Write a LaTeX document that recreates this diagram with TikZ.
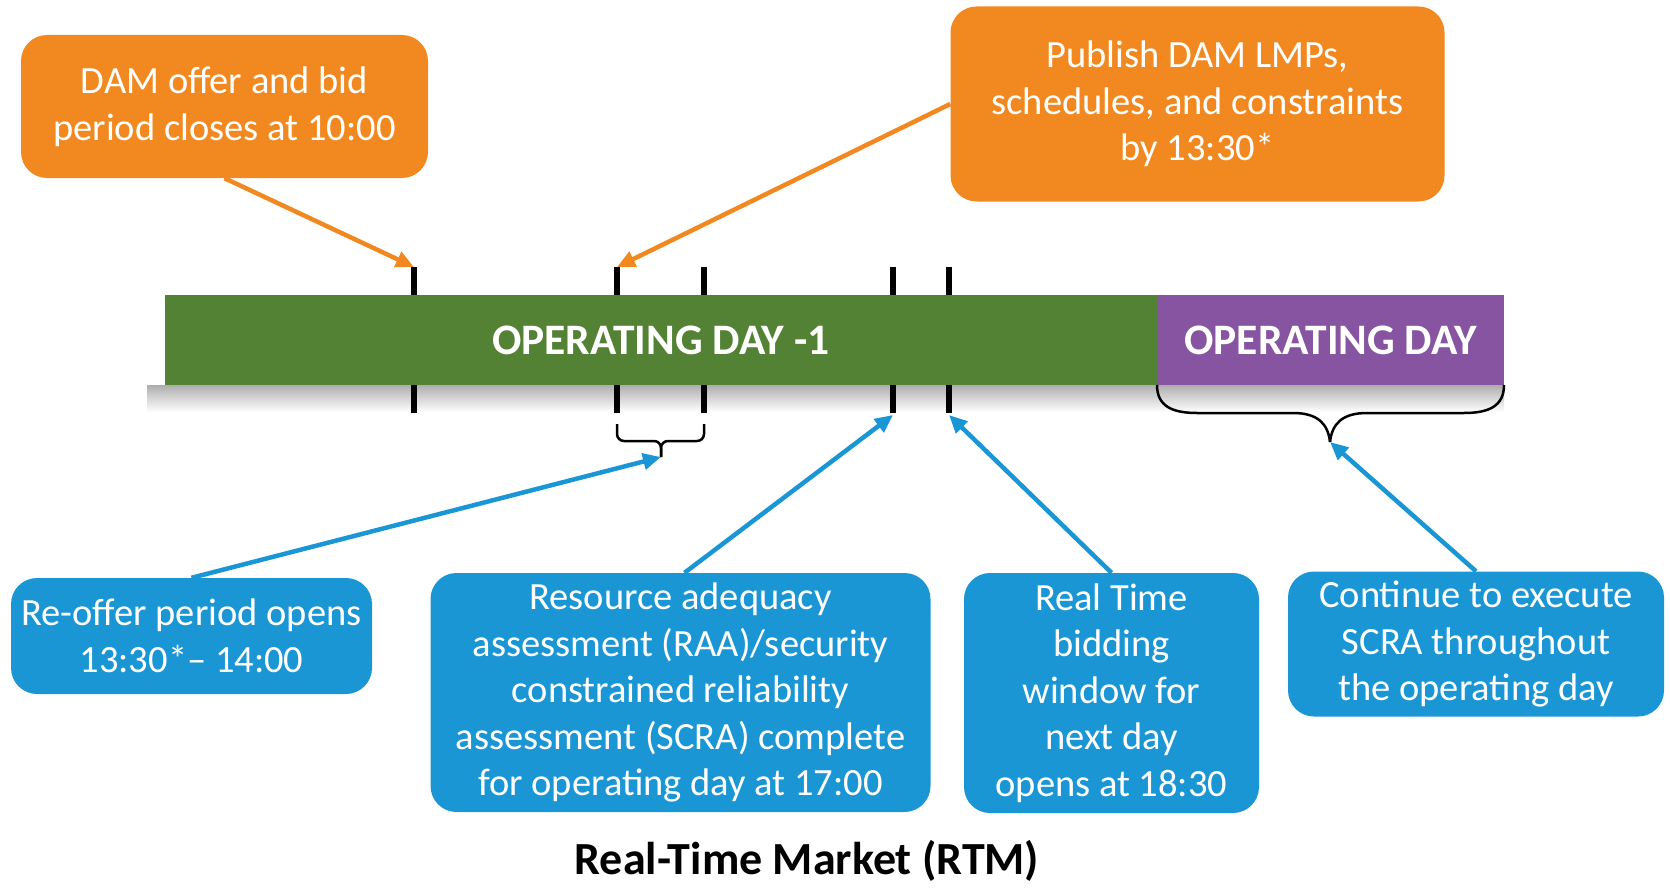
\documentclass[tikz,border=0pt]{standalone}
\usepackage{fontspec}
\setmainfont{Carlito}
\usetikzlibrary{arrows.meta}
\definecolor{damorange}{RGB}{242,137,32}
\definecolor{daygreen}{RGB}{84,130,53}
\definecolor{daypurple}{RGB}{134,84,160}
\definecolor{rtmblue}{RGB}{27,150,212}

\begin{document}
\begin{tikzpicture}[x=1pt,y=-1pt,
  boxtext/.style={font=\fontsize{38.5}{46.5}\selectfont, text=white, align=center,
                  inner sep=0pt, rounded corners=26pt},
  damnote/.style={boxtext, fill=damorange},
  rtmnote/.style={boxtext, fill=rtmblue},
  daybar/.style={font=\bfseries\fontsize{43.5}{50}\selectfont, text=white, inner sep=0pt,
                 minimum height=90pt},
  tickmark/.style={line width=6pt, black},
  bracket/.style={line width=2.5pt, black, rounded corners=7pt},
  damarrow/.style={damorange, line width=4.5pt, -{Triangle[length=18pt,width=16pt]}},
  rtmarrow/.style={rtmblue, line width=4.5pt, -{Triangle[length=18pt,width=16pt]}},
]
\useasboundingbox (0,0) rectangle (1670,888);

% soft shadow under the timeline
\shade[top color=black!32, bottom color=white] (147,385) rectangle (1504,412);

% time ticks (drawn first, the bar covers their middle)
\foreach \x/\n in {414/t1, 617/t2, 704/t3, 893/t4, 949/t5} {
  \draw[tickmark] (\x,267) -- (\x,413);
  \coordinate (\n-top) at (\x,267);
  \coordinate (\n-bot) at (\x,415);
}

% timeline bars
\node[daybar, fill=daygreen, minimum width=992pt] (prevday) at (661,340) {OPERATING DAY -1};
\node[daybar, fill=daypurple, minimum width=347pt] (opday) at (1330.5,340) {OPERATING DAY};

% bracket for the re-offer window
\draw[bracket] (617,424) -- (617,441) -- (661,441) -- (661,457);
\draw[bracket] (704,424) -- (704,441) -- (661,441) -- (661,457);
\coordinate (reofferTip) at (661,457);

% brace under the operating day
\draw[line width=2.5pt, black]
  (1157,385) .. controls (1157,406) and (1172,413) .. (1197,413) -- (1293,413)
  .. controls (1318,413) and (1328,424) .. (1330,442);
\draw[line width=2.5pt, black]
  (1504,385) .. controls (1504,406) and (1489,413) .. (1464,413) -- (1367,413)
  .. controls (1342,413) and (1332,424) .. (1330,442);
\coordinate (opdayTip) at (1330,442);

% day-ahead market notes
\node[damnote, minimum width=407pt, minimum height=143pt] (closeNote) at (224.5,106.5)
  {DAM offer and bid\\period closes at 10:00};
\node[damnote, minimum width=494pt, minimum height=195pt] (publishNote) at (1197.5,104)
  {Publish DAM LMPs,\\schedules, and constraints\\by 13:30*};

% real-time market notes
\node[rtmnote, minimum width=361pt, minimum height=116pt] (reofferNote) at (191.5,636)
  {Re-offer period opens\\13:30*-- 14:00};
\node[rtmnote, minimum width=500pt, minimum height=239pt] (raaNote) at (680.5,692.5)
  {Resource adequacy\\assessment (RAA)/security\\constrained reliability\\assessment (SCRA) complete\\for operating day at 17:00};
\node[rtmnote, minimum width=295pt, minimum height=240pt] (biddingNote) at (1111.5,693)
  {Real Time\\bidding\\window for\\next day\\opens at 18:30};
\node[rtmnote, minimum width=376pt, minimum height=145pt] (scraNote) at (1476,644)
  {Continue to execute\\SCRA throughout\\the operating day};

% connectors
\draw[damarrow] (closeNote.south) -- (t1-top);
\draw[damarrow] (publishNote.west) -- (t2-top);
\draw[rtmarrow] (reofferNote.north) -- (reofferTip);
\draw[rtmarrow] ([xshift=4pt]raaNote.north) -- (t4-bot);
\draw[rtmarrow] (biddingNote.north) -- (t5-bot);
\draw[rtmarrow] (scraNote.north) -- (opdayTip);

% caption
\node[font=\bfseries\fontsize{46}{52}\selectfont, anchor=base, inner sep=0pt] (rtmTitle)
  at (807,874) {Real-Time Market (RTM)};
\end{tikzpicture}
\end{document}
